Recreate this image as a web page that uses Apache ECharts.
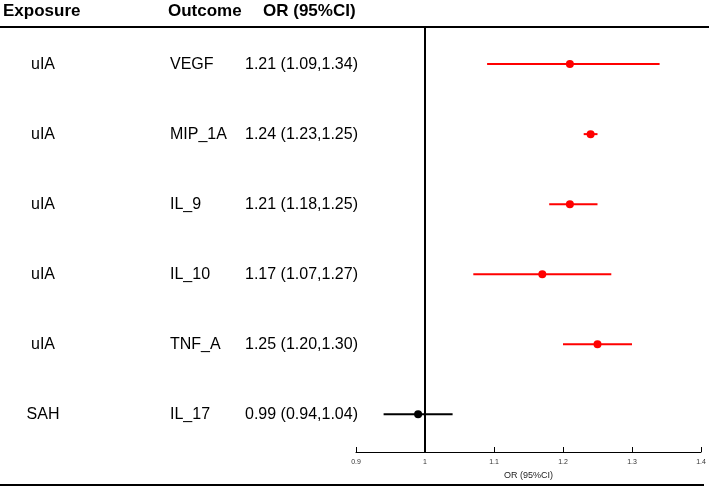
<!DOCTYPE html>
<html>
<head>
<meta charset="utf-8">
<script src="https://cdn.jsdelivr.net/npm/echarts@6/dist/echarts.min.js"></script>
<style>
html,body{margin:0;padding:0;background:#fff;}
#main{width:709px;height:487px;}
</style>
</head>
<body>
<div id="main"></div>
<script>
var exposures = ['uIA', 'uIA', 'uIA', 'uIA', 'uIA', 'SAH'];
var outcomes = ['VEGF', 'MIP_1A', 'IL_9', 'IL_10', 'TNF_A', 'IL_17'];
var orValues = [1.21, 1.24, 1.21, 1.17, 1.25, 0.99];
var lowerCI = [1.09, 1.23, 1.18, 1.07, 1.20, 0.94];
var upperCI = [1.34, 1.25, 1.25, 1.27, 1.30, 1.04];
var xTicks = [0.9, 1.0, 1.1, 1.2, 1.3, 1.4];
var headers = ['Exposure', 'Outcome', 'OR (95%CI)'];

var FONT = '"Liberation Sans", Arial, Helvetica, sans-serif';
var RED = '#ff0000', BLACK = '#000000';

function fmt(v) { return v.toFixed(2); }
var orLabels = orValues.map(function (v, i) {
  return fmt(v) + ' (' + fmt(lowerCI[i]) + ',' + fmt(upperCI[i]) + ')';
});
function rowColor(i) { return lowerCI[i] > 1 ? RED : BLACK; }

var chart = echarts.init(document.getElementById('main'), null, { renderer: 'canvas' });

var option = {
  backgroundColor: '#ffffff',
  animation: false,
  grid: { left: 356, right: 8, top: 27, bottom: 35 },
  xAxis: {
    type: 'value',
    min: xTicks[0],
    max: xTicks[xTicks.length - 1],
    interval: 0.1,
    axisLine: { show: true, onZero: false, lineStyle: { color: '#000', width: 1 } },
    axisTick: { show: true, inside: true, length: 5, lineStyle: { color: '#000', width: 1 } },
    axisLabel: { fontSize: 7, color: '#333', margin: 7, fontFamily: FONT },
    splitLine: { show: false },
    name: 'OR (95%CI)',
    nameLocation: 'middle',
    nameGap: 17,
    nameTextStyle: { fontSize: 9, color: '#222', fontFamily: FONT }
  },
  yAxis: {
    type: 'value',
    inverse: true,
    min: -0.53,
    max: 5.54,
    show: false,
    splitLine: { show: false }
  },
  graphic: [
    { type: 'text', left: 3, top: 3, style: { text: headers[0], font: 'bold 17px ' + FONT, fill: '#000' } },
    { type: 'text', left: 168, top: 3, style: { text: headers[1], font: 'bold 17px ' + FONT, fill: '#000' } },
    { type: 'text', left: 263, top: 3, style: { text: headers[2], font: 'bold 17px ' + FONT, fill: '#000' } },
    { type: 'line', shape: { x1: 0, y1: 27, x2: 709, y2: 27 }, style: { stroke: '#000', lineWidth: 2 } },
    { type: 'line', shape: { x1: 0, y1: 485, x2: 704, y2: 485 }, style: { stroke: '#000', lineWidth: 2 } }
  ],
  series: [
    {
      type: 'custom',
      name: 'CI',
      silent: true,
      data: orValues.map(function (v, i) { return [i, lowerCI[i], upperCI[i]]; }),
      renderItem: function (params, api) {
        var i = api.value(0);
        var p1 = api.coord([api.value(1), i]);
        var p2 = api.coord([api.value(2), i]);
        return {
          type: 'line',
          shape: { x1: p1[0], y1: p1[1], x2: p2[0], y2: p2[1] },
          style: { stroke: rowColor(i), lineWidth: 2 }
        };
      },
      encode: { x: [1, 2], y: 0 }
    },
    {
      type: 'scatter',
      name: 'OR',
      symbol: 'circle',
      symbolSize: 8,
      silent: true,
      data: orValues.map(function (v, i) {
        return { value: [v, i], itemStyle: { color: rowColor(i), opacity: 1 } };
      }),
      markLine: {
        silent: true,
        symbol: ['none', 'none'],
        label: { show: false },
        lineStyle: { color: '#000', width: 2, type: 'solid' },
        data: [{ xAxis: 1 }]
      },
      z: 3
    },
    {
      type: 'custom',
      name: 'table',
      silent: true,
      clip: false,
      data: orValues.map(function (v, i) { return [i]; }),
      renderItem: function (params, api) {
        var i = api.value(0);
        var y = api.coord([1, i])[1];
        var f = '16px ' + FONT;
        return {
          type: 'group',
          children: [
            { type: 'text', x: 43, y: y, style: { text: exposures[i], font: f, fill: '#000', textAlign: 'center', textVerticalAlign: 'middle' } },
            { type: 'text', x: 170, y: y, style: { text: outcomes[i], font: f, fill: '#000', textAlign: 'left', textVerticalAlign: 'middle' } },
            { type: 'text', x: 245, y: y, style: { text: orLabels[i], font: f, fill: '#000', textAlign: 'left', textVerticalAlign: 'middle' } }
          ]
        };
      },
      encode: { y: 0 }
    }
  ]
};
chart.setOption(option);
</script>
</body>
</html>
